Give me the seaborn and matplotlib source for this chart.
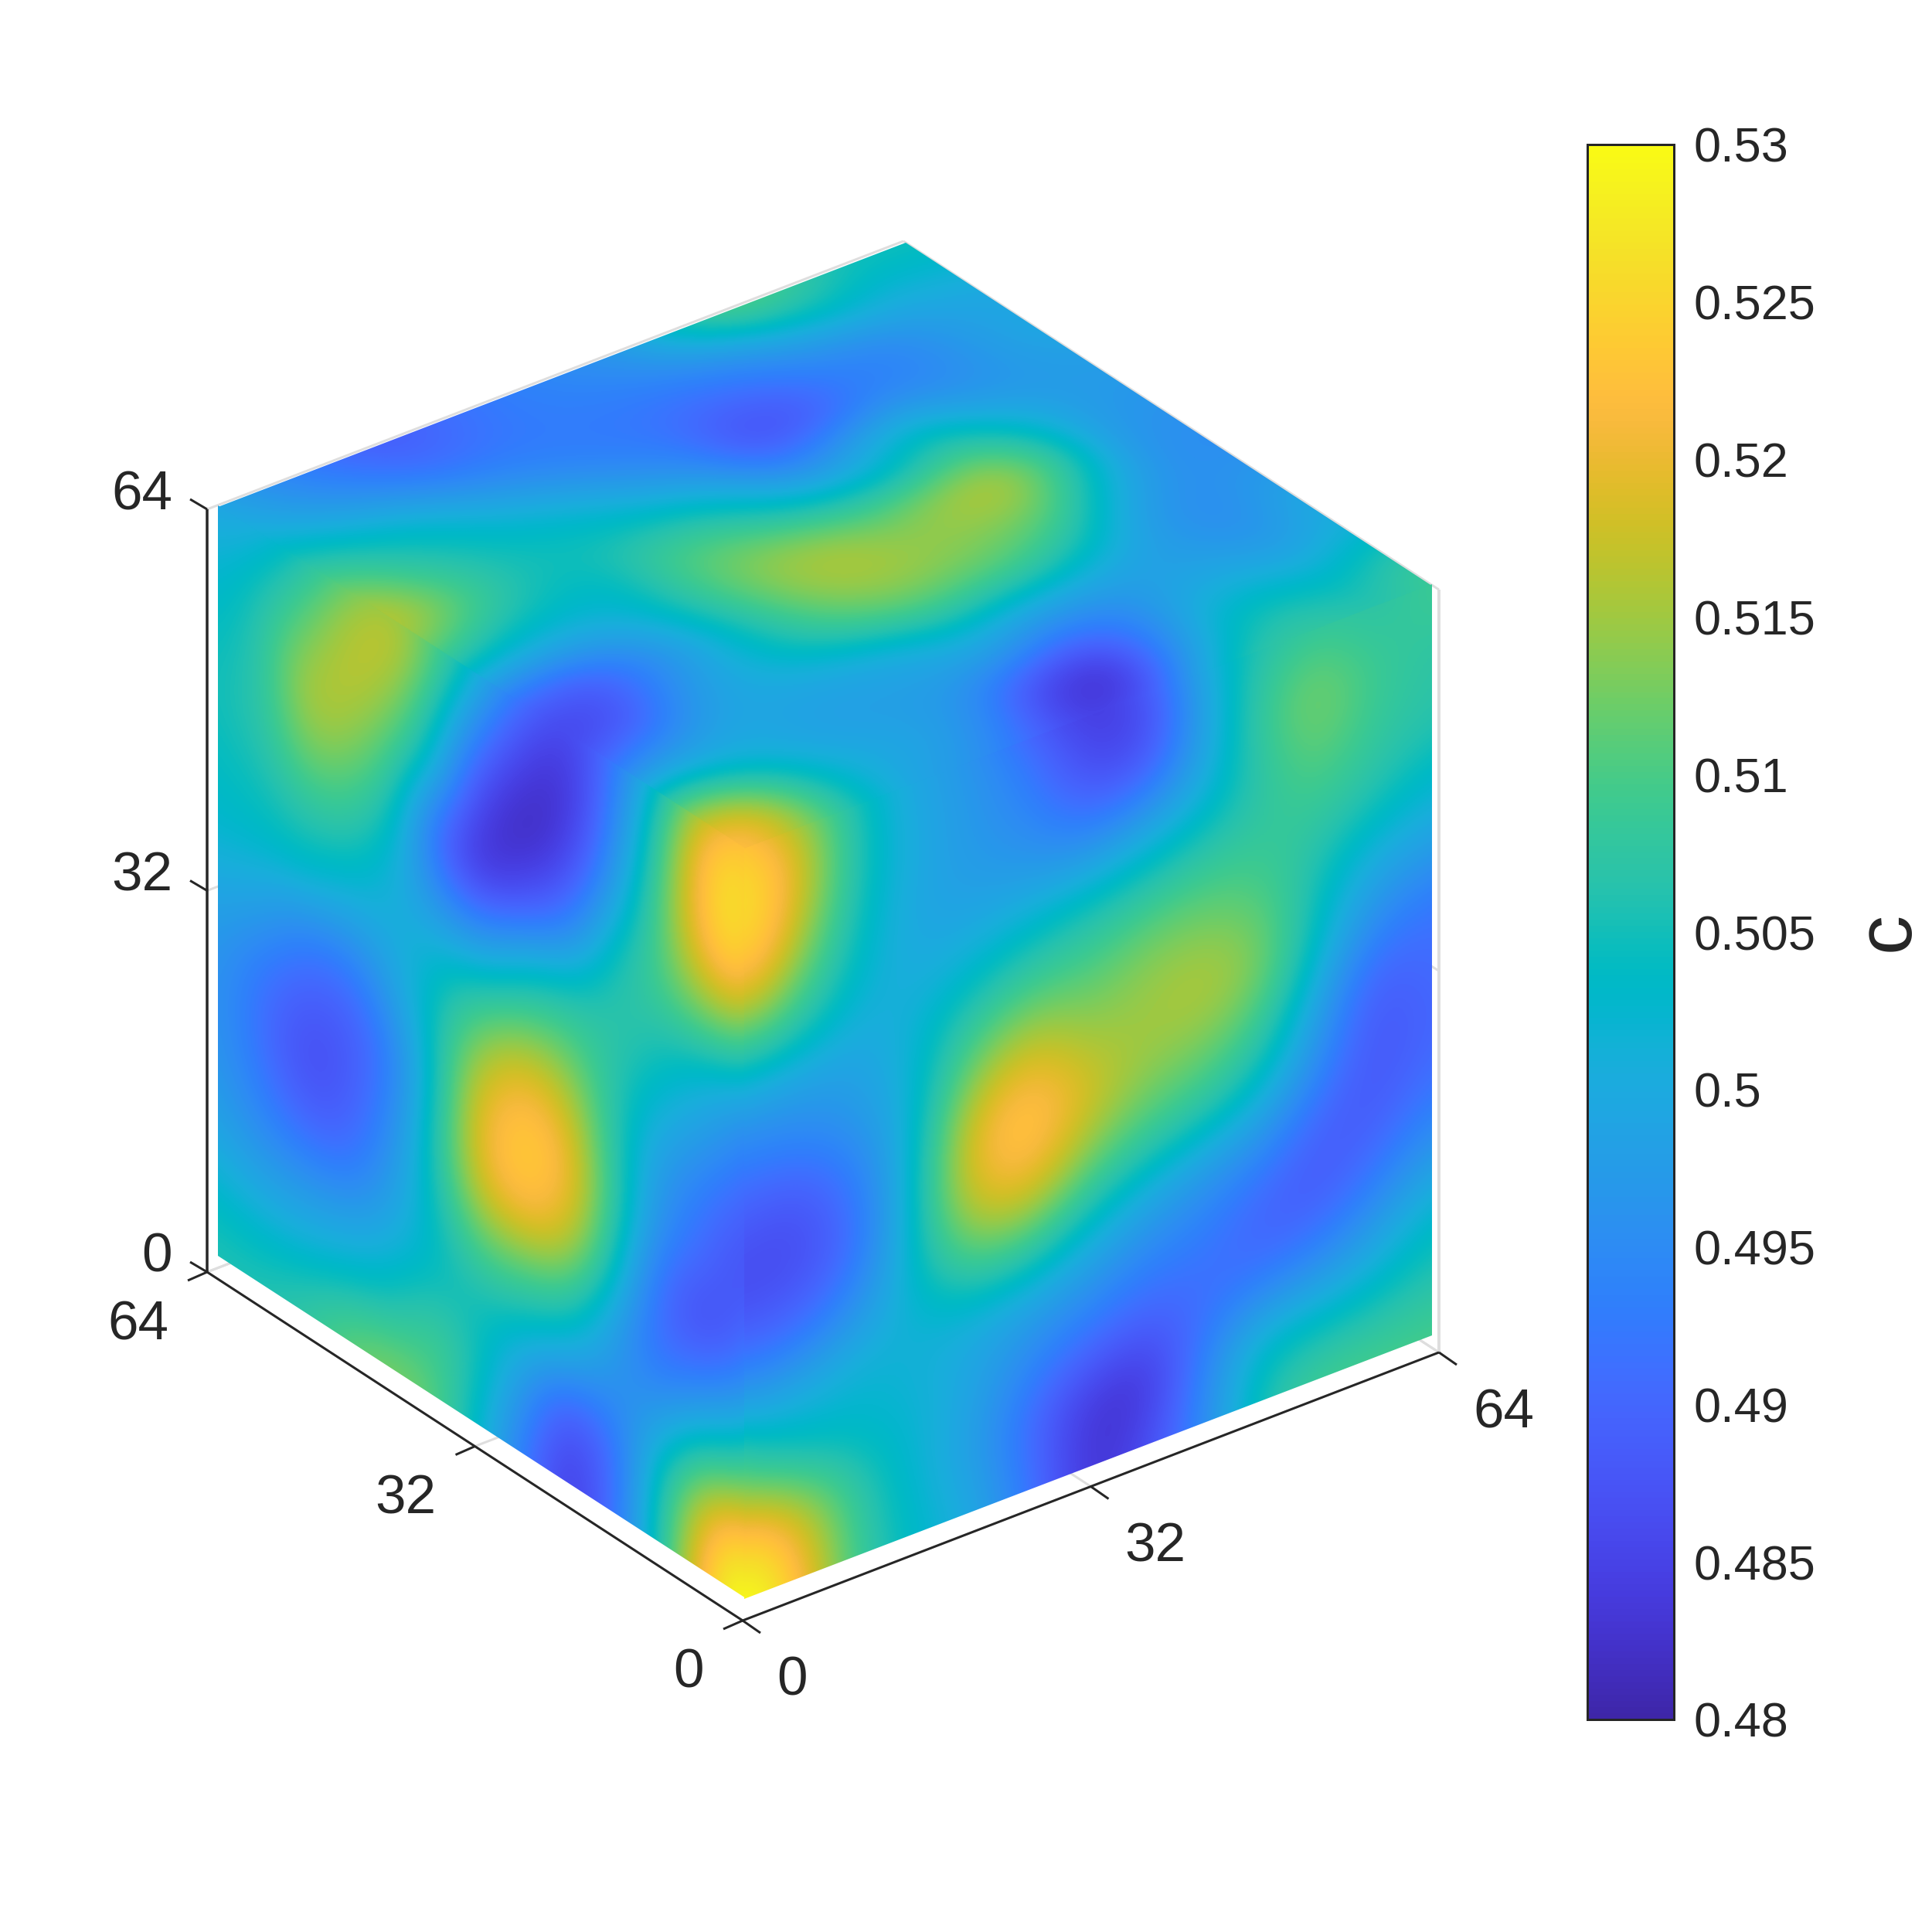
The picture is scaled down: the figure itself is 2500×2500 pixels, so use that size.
import numpy as np
import pandas as pd
import matplotlib
matplotlib.use("Agg")
import matplotlib.pyplot as plt
import seaborn as sns
from matplotlib.colors import LinearSegmentedColormap
from matplotlib.patches import Polygon
from matplotlib.transforms import Affine2D

# concentration on the three visible faces, c * 1000, 13 x 13 samples
# each row as seen on screen: top to bottom, left to right
left_face = [
    [499, 501, 507, 514, 519, 511, 500, 489, 484, 492, 505, 520, 526],
    [502, 506, 512, 518, 516, 505, 492, 483, 482, 494, 508, 524, 529],
    [504, 507, 517, 516, 510, 500, 484, 480, 485, 498, 510, 522, 526],
    [505, 507, 513, 511, 505, 489, 481, 486, 493, 505, 510, 514, 512],
    [504, 505, 507, 506, 501, 495, 494, 501, 505, 508, 506, 503, 499],
    [503, 503, 503, 500, 500, 503, 506, 511, 512, 507, 502, 498, 493],
    [500, 498, 493, 492, 498, 505, 515, 521, 518, 507, 498, 493, 488],
    [497, 492, 488, 488, 493, 505, 521, 525, 522, 508, 496, 490, 486],
    [496, 491, 486, 488, 495, 507, 520, 523, 518, 505, 491, 485, 490],
    [497, 493, 490, 491, 498, 505, 512, 511, 508, 498, 490, 493, 499],
    [499, 497, 497, 498, 501, 504, 505, 503, 499, 495, 497, 505, 509],
    [503, 502, 502, 504, 506, 510, 505, 496, 486, 490, 504, 518, 525],
    [506, 506, 508, 512, 514, 511, 502, 492, 483, 491, 505, 522, 534],
]
right_face = [
    [526, 517, 505, 499, 497, 491, 483, 485, 500, 507, 509, 506, 510],
    [529, 519, 505, 500, 497, 494, 487, 486, 498, 509, 514, 509, 507],
    [526, 514, 504, 499, 498, 497, 495, 498, 501, 507, 512, 508, 507],
    [512, 508, 502, 500, 501, 503, 505, 506, 508, 508, 508, 506, 503],
    [499, 499, 499, 502, 507, 510, 510, 513, 513, 511, 505, 500, 499],
    [493, 494, 497, 502, 514, 519, 514, 515, 517, 514, 503, 495, 492],
    [488, 487, 493, 503, 521, 525, 519, 514, 513, 509, 499, 488, 491],
    [486, 486, 491, 504, 519, 522, 513, 509, 507, 503, 495, 487, 490],
    [490, 491, 496, 503, 510, 510, 504, 500, 497, 495, 489, 488, 492],
    [499, 500, 502, 501, 500, 499, 497, 494, 493, 489, 488, 492, 497],
    [509, 504, 503, 502, 499, 494, 491, 489, 491, 492, 494, 498, 503],
    [525, 518, 507, 502, 498, 490, 483, 482, 494, 503, 503, 504, 506],
    [534, 522, 508, 503, 500, 492, 482, 486, 495, 506, 510, 510, 510],
]
# first row runs along the near corner, last row along the upper left edge
top_face = [
    [526, 517, 505, 499, 497, 491, 483, 485, 500, 507, 509, 506, 510],
    [520, 515, 504, 500, 499, 495, 484, 481, 493, 503, 505, 503, 507],
    [505, 503, 500, 498, 498, 498, 497, 492, 493, 499, 500, 498, 501],
    [492, 496, 500, 499, 499, 500, 503, 501, 500, 498, 497, 495, 500],
    [484, 487, 497, 501, 505, 509, 512, 511, 510, 505, 497, 495, 497],
    [489, 487, 493, 500, 507, 514, 516, 515, 514, 513, 503, 496, 495],
    [500, 499, 499, 503, 510, 515, 516, 512, 516, 518, 509, 497, 496],
    [511, 506, 504, 503, 510, 511, 506, 504, 503, 509, 504, 498, 497],
    [519, 512, 506, 505, 505, 504, 500, 493, 499, 502, 497, 497, 498],
    [514, 508, 505, 503, 501, 497, 494, 486, 487, 493, 494, 497, 500],
    [507, 504, 502, 498, 495, 493, 492, 490, 491, 494, 494, 498, 499],
    [501, 498, 495, 491, 492, 493, 493, 494, 496, 500, 503, 501, 502],
    [499, 495, 491, 488, 491, 493, 495, 497, 505, 512, 509, 505, 505],
]

axis_ticks = [0, 32, 64]
c_ticks = [0.48, 0.485, 0.49, 0.495, 0.5, 0.505, 0.51, 0.515, 0.52, 0.525, 0.53]
c_labels = ["0.48", "0.485", "0.49", "0.495", "0.5", "0.505", "0.51", "0.515", "0.52", "0.525", "0.53"]

parula_stops = [
    [0.2422, 0.1504, 0.6603], [0.2504, 0.1650, 0.7076], [0.2578, 0.1818, 0.7511], [0.2647, 0.1978, 0.7952],
    [0.2706, 0.2147, 0.8364], [0.2751, 0.2342, 0.8710], [0.2783, 0.2559, 0.8991], [0.2803, 0.2782, 0.9221],
    [0.2813, 0.3006, 0.9414], [0.2810, 0.3228, 0.9579], [0.2795, 0.3447, 0.9717], [0.2760, 0.3667, 0.9829],
    [0.2699, 0.3892, 0.9906], [0.2602, 0.4123, 0.9952], [0.2440, 0.4358, 0.9988], [0.2206, 0.4603, 0.9973],
    [0.1963, 0.4847, 0.9892], [0.1834, 0.5074, 0.9798], [0.1786, 0.5289, 0.9682], [0.1764, 0.5499, 0.9520],
    [0.1687, 0.5703, 0.9359], [0.1540, 0.5902, 0.9218], [0.1460, 0.6091, 0.9079], [0.1380, 0.6276, 0.8973],
    [0.1248, 0.6459, 0.8883], [0.1113, 0.6635, 0.8763], [0.0952, 0.6798, 0.8598], [0.0689, 0.6948, 0.8394],
    [0.0297, 0.7082, 0.8163], [0.0036, 0.7203, 0.7917], [0.0067, 0.7312, 0.7660], [0.0433, 0.7411, 0.7394],
    [0.0964, 0.7500, 0.7120], [0.1408, 0.7584, 0.6842], [0.1717, 0.7670, 0.6554], [0.1938, 0.7758, 0.6251],
    [0.2161, 0.7843, 0.5923], [0.2470, 0.7918, 0.5567], [0.2906, 0.7973, 0.5188], [0.3406, 0.8008, 0.4789],
    [0.3909, 0.8029, 0.4354], [0.4456, 0.8024, 0.3909], [0.5044, 0.7993, 0.3480], [0.5616, 0.7942, 0.3045],
    [0.6174, 0.7876, 0.2612], [0.6720, 0.7793, 0.2227], [0.7242, 0.7698, 0.1910], [0.7738, 0.7598, 0.1646],
    [0.8203, 0.7498, 0.1535], [0.8634, 0.7406, 0.1596], [0.9035, 0.7330, 0.1774], [0.9393, 0.7288, 0.2100],
    [0.9728, 0.7298, 0.2394], [0.9956, 0.7434, 0.2371], [0.9970, 0.7659, 0.2199], [0.9952, 0.7893, 0.2028],
    [0.9892, 0.8136, 0.1885], [0.9786, 0.8386, 0.1766], [0.9676, 0.8639, 0.1643], [0.9610, 0.8890, 0.1537],
    [0.9597, 0.9135, 0.1423], [0.9628, 0.9373, 0.1265], [0.9691, 0.9606, 0.1064], [0.9769, 0.9839, 0.0805],
]

sns.set_theme(style="white")
plt.rcParams["font.family"] = ["Liberation Sans", "DejaVu Sans"]

DARK = "#262626"
GRAY = "#dedede"
px = 72 / 100  # one figure pixel in points
parula = LinearSegmentedColormap.from_list("parula", parula_stops, N=256)

fig = plt.figure(figsize=(25, 25), dpi=100, facecolor="white")
ax = fig.add_axes([0, 0, 1, 1])

# corners of the surface in figure pixels
near_top = np.array([963, 1100])
near_bottom = np.array([963, 2069])
left_top = np.array([282, 656])
left_bottom = np.array([282, 1625])
right_top = np.array([1853, 758])
right_bottom = np.array([1853, 1728])
far_top = np.array([1172, 314])


def face_transform(origin, col_end, row_end):
    # grid index (col, row) to figure pixels
    ex = (col_end - origin) / 12
    ey = (row_end - origin) / 12
    return Affine2D(np.array([[ex[0], ey[0], origin[0]], [ex[1], ey[1], origin[1]], [0, 0, 1]]))


# one extra ring of samples per face, taken from the neighbouring face where
# they touch, so that the resampling carries on smoothly over the corner edges
L, R, T = np.array(left_face), np.array(right_face), np.array(top_face)
left_wide = np.pad(L, 1, mode="edge")
right_wide = np.pad(R, 1, mode="edge")
top_wide = np.pad(T, 1, mode="edge")
for n in range(13):
    up = min(n + 1, 12)
    left_wide[n + 1, 14] = R[up, 1]
    left_wide[0, n + 1] = T[min(13 - n, 12), 1]
    right_wide[n + 1, 0] = L[up, 11]
    right_wide[0, n + 1] = T[1, up]
    top_wide[0, n + 1] = R[1, up]
    top_wide[n + 1, 0] = L[1, max(11 - n, 0)]

# drawn in this order, the clip outlines overlap by a little so no seam line shows
faces = [
    (top_wide, near_top, right_top, left_top, [near_top, right_top, far_top, left_top]),
    (left_wide, left_top, near_top, left_bottom,
     [left_top + (0, -2), near_top + (2, -2), near_bottom + (2, -1), left_bottom]),
    (right_wide, near_top, right_top, near_bottom,
     [near_top + (0, -2), right_top + (0, -2), right_bottom, near_bottom]),
]
for values, origin, col_end, row_end, outline in faces:
    im = ax.imshow(values / 1000, cmap=parula, vmin=0.48, vmax=0.53,
                   interpolation="bicubic", interpolation_stage="data", aspect="auto",
                   extent=(-1.5, 13.5, 13.5, -1.5), zorder=2,
                   transform=face_transform(origin, col_end, row_end) + ax.transData)
    clip = Polygon(outline, closed=True, transform=ax.transData, facecolor="none", edgecolor="none")
    ax.add_patch(clip)
    im.set_clip_path(clip)

ax.set_xlim(0, 2500)
ax.set_ylim(2500, 0)
ax.axis("off")

# box of the axes, x along the lower right, y along the lower left, z up
box_origin = np.array([961.0, 2097.0])
box_x = np.array([901.0, -347.0]) / 64
box_y = np.array([-693.0, -451.0]) / 64
box_z = np.array([0.0, -987.0]) / 64


def project(x, y, z):
    return box_origin + x * box_x + y * box_y + z * box_z


def seg(p, q, color, lw, zorder):
    ax.plot([p[0], q[0]], [p[1], q[1]], color=color, lw=lw * px, zorder=zorder,
            solid_capstyle="butt", clip_on=False)


# light grid and back edges, mostly hidden behind the surface
for t in axis_ticks:
    seg(project(0, t, 0), project(64, t, 0), GRAY, 3, 1)
    seg(project(t, 0, 0), project(t, 64, 0), GRAY, 3, 1)
    seg(project(0, 64, t), project(64, 64, t), GRAY, 3, 1)
    seg(project(64, 0, t), project(64, 64, t), GRAY, 3, 1)
seg(project(64, 0, 0), project(64, 0, 64), GRAY, 4, 1)

# dark axis lines
seg(project(0, 64, 0), project(0, 0, 0), DARK, 3, 3)
seg(project(0, 0, 0), project(64, 0, 0), DARK, 3, 3)
seg(project(0, 64, 0), project(0, 64, 64), DARK, 3.5, 3)

label_size = 71 * px
for t in axis_ticks:
    p = project(0, 64, t)
    seg(p, p + np.array([-22, -13]), DARK, 3, 3)
    ax.text(223, p[1] - 18, str(t), ha="right", va="center", fontsize=label_size, color=DARK)

    p = project(0, t, 0)
    seg(p, p + np.array([-25, 11]), DARK, 3, 3)
    ax.text(p[0] - 50, p[1] + 69, str(t), ha="right", va="center", fontsize=label_size, color=DARK)

    p = project(t, 0, 0)
    seg(p, p + np.array([23, 16]), DARK, 3, 3)
    ax.text(p[0] + 44, p[1] + 79, str(t), ha="left", va="center", fontsize=label_size, color=DARK)

# colorbar comes from a heatmap on a hidden helper axes
helper = fig.add_axes([0, 0, 0.01, 0.01])
cax = fig.add_axes([2054 / 2500, 1 - 2225 / 2500, 112 / 2500, 2038 / 2500])
sns.heatmap(pd.DataFrame(left_face) / 1000, ax=helper, cbar_ax=cax, cmap=parula, vmin=0.48, vmax=0.53,
            xticklabels=False, yticklabels=False, cbar_kws={"ticks": c_ticks})
helper.set_visible(False)
cax.set_yticks(c_ticks)
cax.set_yticklabels(c_labels)
cax.tick_params(axis="y", direction="in", length=22 * px, width=3 * px, color=DARK, labelcolor=DARK,
                labelsize=63 * px, pad=26 * px, right=True, left=False)
for spine in cax.spines.values():
    spine.set_visible(True)
    spine.set_color(DARK)
    spine.set_linewidth(3 * px)
cax.collections[0].set_edgecolor("face")

ax.text(2443, 1205, "c", rotation=90, ha="center", va="center", fontsize=102 * px, color=DARK)

fig.savefig("out.png", dpi=100, facecolor="white")
